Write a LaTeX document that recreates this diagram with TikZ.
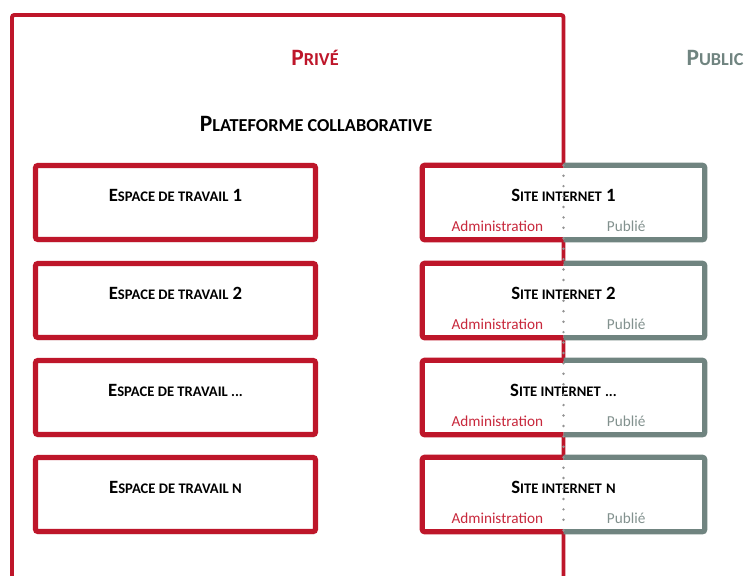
\documentclass[tikz,border=0pt]{standalone}
\usepackage{fontspec}
\setmainfont{Carlito}
\usetikzlibrary{shadows}

\definecolor{prive}{RGB}{190,22,42}
\definecolor{publik}{RGB}{112,132,128}
\definecolor{adminred}{RGB}{200,40,60}
\definecolor{publiegray}{RGB}{130,145,142}

% petites capitales faites a la main
\makeatletter
\newcommand\petit[1]{{\fontsize{\fpeval{0.78*\f@size}}{\f@baselineskip}\selectfont\MakeUppercase{#1}}}
\makeatother

\tikzset{
  heading/.style={font=\bfseries\fontsize{20}{24}\selectfont},
  boxtitle/.style={font=\bfseries\fontsize{16}{19}\selectfont},
  sublabel/.style={font=\fontsize{13}{15}\selectfont},
  espace/.style={draw=prive, line width=4.4pt, fill=white, rounded corners=2pt,
    minimum width=8.4cm, minimum height=2.22cm, inner sep=0pt,
    drop shadow={opacity=0.2, shadow xshift=1pt, shadow yshift=-2.5pt}},
  site/.style={fill=white, minimum width=8.46cm, minimum height=2.22cm, inner sep=0pt,
    drop shadow={opacity=0.2, shadow xshift=1pt, shadow yshift=-2.5pt}},
  redside/.style={draw=prive, line width=4.4pt, rounded corners=2pt},
  grayside/.style={draw=publik, line width=4.4pt, rounded corners=2pt},
}

\begin{document}
\begin{tikzpicture}[x=0.03cm, y=-0.03cm]
\useasboundingbox (0,0) rectangle (747,575);

% cadre prive
\draw[prive, line width=3.4pt, rounded corners=2pt] (12,576.5) -- (12,15) -- (563.5,15) -- (563.5,576.5);

\node[heading, text=prive] (prv) at (315,58) {P\petit{rivé}};
\node[heading, text=publik] (pub) at (715,58) {P\petit{ublic}};
\node[heading] (plat) at (316,124) {P\petit{lateforme collaborative}};

% espaces de travail
\node[espace] (ws1) at (175.5,202.5) {};
\node[espace] (ws2) at (175.5,300.5) {};
\node[espace] (ws3) at (175.5,397.5) {};
\node[espace] (ws4) at (175.5,494.5) {};
\node[boxtitle] (ws1t) at ([yshift=6pt]ws1.center) {E\petit{space de travail} 1};
\node[boxtitle] (ws2t) at ([yshift=6pt]ws2.center) {E\petit{space de travail} 2};
\node[boxtitle] (ws3t) at ([yshift=6pt]ws3.center) {E\petit{space de travail ...}};
\node[boxtitle] (ws4t) at ([yshift=6pt]ws4.center) {E\petit{space de travail n}};

% sites internet
\foreach \i/\y/\num in {1/202.5/1, 2/300.5/2, 3/397.5/\petit{...}, 4/494.5/\petit{n}} {
  \node[site] (s\i) at (563.5,\y) {};
  \draw[redside] (s\i.north) -- (s\i.north west) -- (s\i.south west) -- (s\i.south);
  \draw[grayside] (s\i.north) -- (s\i.north east) -- (s\i.south east) -- (s\i.south);
  \node[boxtitle] (s\i t) at ([yshift=6pt]s\i.center) {S\petit{ite internet} \num};
  \node[sublabel, text=adminred] (s\i a) at ([xshift=-56.5pt, yshift=-20pt]s\i.center) {Administration};
  \node[sublabel, text=publiegray] (s\i p) at ([xshift=53.5pt, yshift=-20pt]s\i.center) {Publié};
}

% separation prive / public
\draw[gray!85, line width=2.3pt, line cap=round, dash pattern=on 0pt off 8.9pt] (s1.north) -- (s4.south);
\end{tikzpicture}
\end{document}
